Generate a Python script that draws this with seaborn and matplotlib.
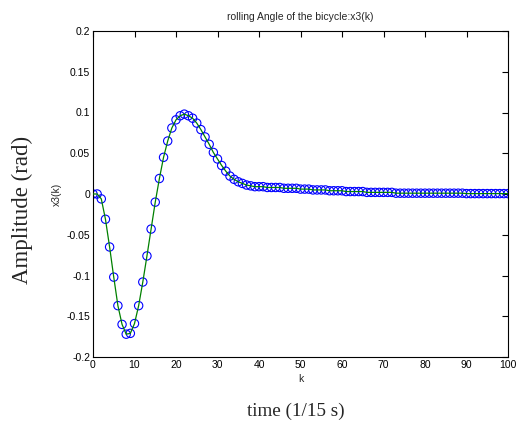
import numpy as np
import matplotlib
matplotlib.use("Agg")
import matplotlib.pyplot as plt
import seaborn as sns

# rolling angle x3(k)
k = list(range(0, 101))
x3 = [0.0, 0.0, -0.006, -0.031, -0.065, -0.102, -0.137, -0.160, -0.172, -0.171,
      -0.159, -0.137, -0.108, -0.076, -0.043, -0.010, 0.019, 0.045, 0.065, 0.081,
      0.091, 0.096, 0.098, 0.096, 0.093, 0.087, 0.079, 0.070, 0.061, 0.051,
      0.043, 0.035, 0.028, 0.022, 0.018, 0.015, 0.013, 0.011, 0.010, 0.009,
      0.009, 0.009, 0.008, 0.008, 0.008, 0.008, 0.007, 0.007, 0.007, 0.007,
      0.006, 0.006, 0.006, 0.005, 0.005, 0.005, 0.005, 0.004, 0.004, 0.004,
      0.004, 0.003, 0.003, 0.003, 0.003, 0.003, 0.002, 0.002, 0.002, 0.002,
      0.002, 0.002, 0.002, 0.001, 0.001, 0.001, 0.001, 0.001, 0.001, 0.001,
      0.001, 0.001, 0.001, 0.001, 0.001, 0.001, 0.001, 0.001, 0.001, 0.001,
      0.0005, 0.0005, 0.0005, 0.0005, 0.0005, 0.0005, 0.0005, 0.0005, 0.0005, 0.0005,
      0.0005]

xticks = list(range(0, 101, 10))
yticks = [-0.2, -0.15, -0.1, -0.05, 0, 0.05, 0.1, 0.15, 0.2]
ytick_labels = ["-0.2", "-0.15", "-0.1", "-0.05", "0", "0.05", "0.1", "0.15", "0.2"]

sns.set_style("white")
plt.rcParams['font.family'] = ['Liberation Sans', 'DejaVu Sans']

fig = plt.figure(figsize=(5.17, 4.26), dpi=100)
ax = fig.add_axes([93 / 517, 1 - 357 / 426, 415 / 517, 326 / 426])

sns.scatterplot(x=k, y=x3, ax=ax, marker='o', s=36, facecolor='none',
                edgecolor='blue', linewidth=0.8, zorder=2)
sns.lineplot(x=k, y=x3, ax=ax, color='green', linewidth=0.9, zorder=3)

ax.set_xlim(0, 100)
ax.set_ylim(-0.2, 0.2)
ax.set_xticks(xticks)
ax.set_xticklabels([str(t) for t in xticks])
ax.set_yticks(yticks)
ax.set_yticklabels(ytick_labels)
ax.tick_params(direction='in', length=4, width=0.8, top=True, right=True,
               labelsize=7.5, colors='black', pad=2)
for s in ax.spines.values():
    s.set_color('black')
    s.set_linewidth(0.8)

ax.set_title("rolling Angle of the bicycle:x3(k)", fontsize=7.5, pad=8)
ax.set_xlabel("k", fontsize=7.5, labelpad=3)
ax.set_ylabel("x3(k)", fontsize=7.5, labelpad=3)

fig.text(22 / 517, 1 - 210 / 426, "Amplitude (rad)", rotation=90,
         ha='center', va='center', fontsize=16.5, family='Liberation Serif')
fig.text(296 / 517, 1 - 411 / 426, "time (1/15 s)",
         ha='center', va='center', fontsize=13.8, family='Liberation Serif')

fig.savefig("out.png", dpi=100)
